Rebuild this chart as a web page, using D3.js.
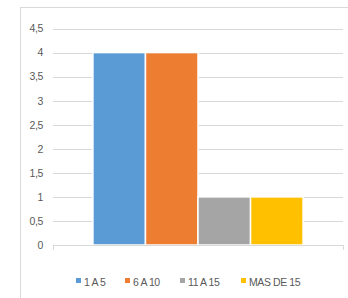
<!DOCTYPE html>
<html>
<head>
<meta charset="utf-8">
<script src="https://cdn.jsdelivr.net/npm/d3@7"></script>
<style>
  body { margin: 0; background: #fff; }
  text { font-family: "Liberation Sans Narrow", "Liberation Sans", sans-serif; fill: #595959; }
</style>
</head>
<body>
<div id="app"></div>
<script>
"use strict";

const categories = ["1 A 5", "6 A 10", "11 A 15", "MAS DE 15"];
const values = [4, 4, 1, 1];
const colors = ["#5b9bd5", "#ed7d31", "#a5a5a5", "#ffc000"];
const yTicks = [0, 0.5, 1, 1.5, 2, 2.5, 3, 3.5, 4, 4.5];

const width = 348, height = 298;
const plot = { left: 53, right: 343, top: 28.5, bottom: 245 };

const svg = d3.select("#app").append("svg")
  .attr("width", width)
  .attr("height", height);

// chart frame
svg.append("rect")
  .attr("x", 20.5).attr("y", 7.5)
  .attr("width", 340).attr("height", 300)
  .attr("fill", "none")
  .attr("stroke", "#d9d9d9");

const y = d3.scaleLinear().domain([0, 4.5]).range([plot.bottom, plot.top]);

const outer = d3.scaleBand().domain(["g"]).range([plot.left, plot.right]).paddingInner(0).paddingOuter(0.19);
const x = d3.scaleBand().domain(categories).range([outer("g"), outer("g") + outer.bandwidth()]);

// gridlines
svg.append("g")
  .selectAll("line")
  .data(yTicks.filter(d => d > 0))
  .join("line")
  .attr("x1", plot.left).attr("x2", plot.right)
  .attr("y1", d => Math.round(y(d)) + 0.5)
  .attr("y2", d => Math.round(y(d)) + 0.5)
  .attr("stroke", "#d9d9d9");

// y labels
const yAxis = d3.axisLeft(y).tickValues(yTicks)
  .tickFormat(d => String(d).replace(".", ","))
  .tickSize(0).tickPadding(10);
const ya = svg.append("g")
  .attr("transform", `translate(${plot.left},0)`)
  .call(yAxis);
ya.select(".domain").remove();
ya.selectAll("text")
  .style("font-size", "10.5px")
  .style("letter-spacing", "-0.4px")
  .attr("fill", "#595959");

// bars
svg.append("g")
  .selectAll("rect")
  .data(values)
  .join("rect")
  .attr("x", (d, i) => x(categories[i]))
  .attr("width", x.bandwidth())
  .attr("y", d => y(d))
  .attr("height", d => plot.bottom - y(d))
  .attr("fill", (d, i) => colors[i])
  .attr("stroke", "#fff")
  .attr("stroke-width", 1.5);

// base axis
const base = svg.append("g").attr("stroke", "#d9d9d9");
base.append("line")
  .attr("x1", plot.left).attr("x2", plot.right)
  .attr("y1", plot.bottom + 0.5).attr("y2", plot.bottom + 0.5);
base.selectAll("line.tk")
  .data([plot.left, plot.right])
  .join("line")
  .attr("class", "tk")
  .attr("x1", d => d + 0.5).attr("x2", d => d + 0.5)
  .attr("y1", plot.bottom).attr("y2", plot.bottom + 5);

// legend
const legendX = [76, 125, 180, 241];
const lg = svg.append("g");
categories.forEach((c, i) => {
  lg.append("rect")
    .attr("x", legendX[i]).attr("y", 278)
    .attr("width", 5).attr("height", 5)
    .attr("fill", colors[i]);
  lg.append("text")
    .attr("x", legendX[i] + 8).attr("y", 286)
    .style("font-size", "10.5px")
    .style("letter-spacing", "-0.4px")
    .text(c);
});
</script>
</body>
</html>
